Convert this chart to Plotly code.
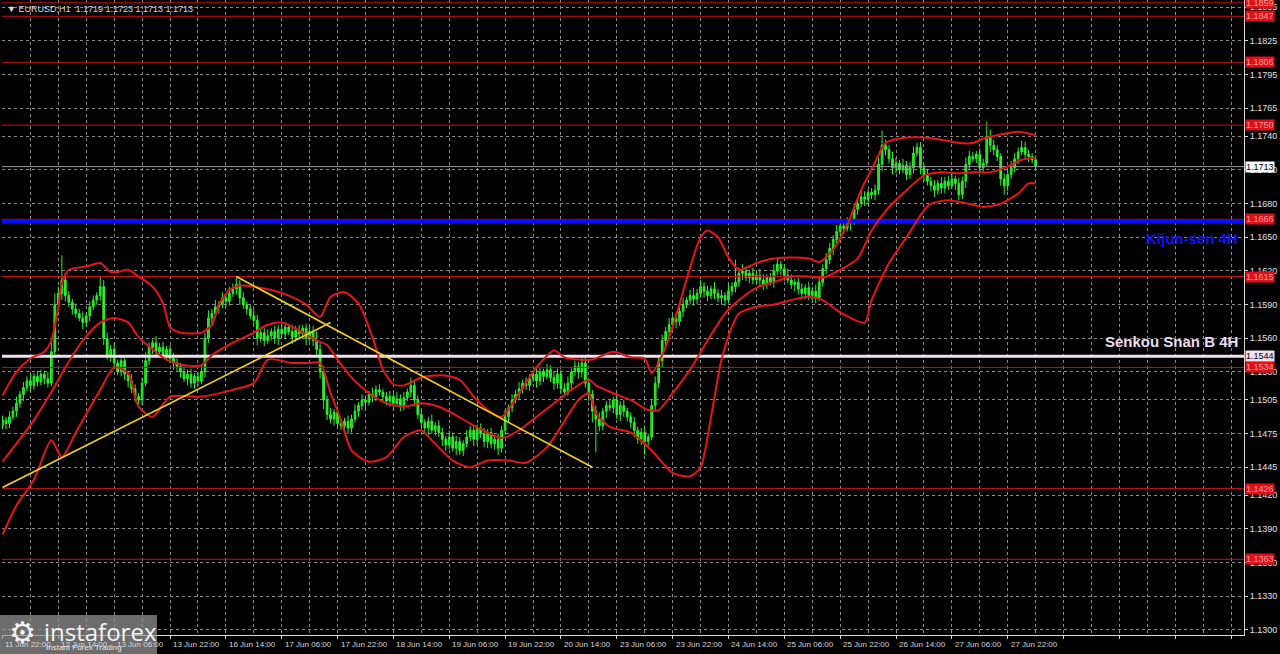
import plotly.graph_objects as go

# ---------------- data ----------------
closes = [
    1.1487, 1.1484, 1.1490, 1.1495, 1.1502, 1.1510, 1.1516, 1.1522, 1.1518, 1.1526,
    1.1521, 1.1528, 1.1524, 1.1520, 1.1548, 1.1590, 1.1600, 1.1612, 1.1598, 1.1592,
    1.1586, 1.1582, 1.1578, 1.1574, 1.1580, 1.1588, 1.1594, 1.1598, 1.1606, 1.1560,
    1.1545, 1.1550, 1.1538, 1.1530, 1.1540, 1.1528, 1.1522, 1.1515, 1.1508, 1.1505,
    1.1520, 1.1540, 1.1552, 1.1556, 1.1548, 1.1552, 1.1545, 1.1550, 1.1542, 1.1538,
    1.1535, 1.1530, 1.1524, 1.1528, 1.1520, 1.1526, 1.1522, 1.1530, 1.1560, 1.1578,
    1.1582, 1.1588, 1.1590, 1.1596, 1.1593, 1.1600, 1.1604, 1.1608, 1.1596, 1.1590,
    1.1586, 1.1580, 1.1576, 1.1560, 1.1565, 1.1558, 1.1562, 1.1566, 1.1560, 1.1568,
    1.1564, 1.1570, 1.1566, 1.1561, 1.1567, 1.1564, 1.1569, 1.1560, 1.1566, 1.1558,
    1.1550, 1.1530, 1.1505, 1.1492, 1.1488, 1.1494, 1.1484, 1.1482, 1.1486, 1.1480,
    1.1488, 1.1495, 1.1500, 1.1505, 1.1503, 1.1510, 1.1508, 1.1514, 1.1512, 1.1508,
    1.1504, 1.1508, 1.1502, 1.1506, 1.1500, 1.1507, 1.1512, 1.1518, 1.1505, 1.1492,
    1.1485, 1.1480, 1.1486, 1.1478, 1.1482, 1.1476, 1.1470, 1.1465, 1.1472, 1.1462,
    1.1468, 1.1460, 1.1466, 1.1472, 1.1478, 1.1470, 1.1480, 1.1475, 1.1468, 1.1476,
    1.1466, 1.1470, 1.1462, 1.1478, 1.1490, 1.1498, 1.1505, 1.1510, 1.1515, 1.1520,
    1.1518, 1.1524, 1.1528, 1.1522, 1.1530, 1.1526, 1.1532, 1.1525, 1.1520, 1.1528,
    1.1515, 1.1512, 1.1520, 1.1530, 1.1535, 1.1530, 1.1538, 1.1520, 1.1510, 1.1495,
    1.1488, 1.1482, 1.1495, 1.1500, 1.1498, 1.1505, 1.1492, 1.1500, 1.1495, 1.1490,
    1.1485, 1.1478, 1.1470, 1.1476, 1.1468, 1.1472, 1.1500, 1.1520, 1.1540, 1.1558,
    1.1566, 1.1572, 1.1578, 1.1575, 1.1584, 1.1590, 1.1594, 1.1598, 1.1595, 1.1600,
    1.1606, 1.1602, 1.1598, 1.1604, 1.1600, 1.1596, 1.1598, 1.1594, 1.1602, 1.1606,
    1.1610, 1.1618, 1.1620, 1.1614, 1.1618, 1.1612, 1.1616, 1.1612, 1.1608, 1.1614,
    1.1610, 1.1620, 1.1626, 1.1622, 1.1616, 1.1612, 1.1608, 1.1610, 1.1604, 1.1600,
    1.1605, 1.1598, 1.1602, 1.1596, 1.1610, 1.1622, 1.1630, 1.1640, 1.1648, 1.1655,
    1.1660, 1.1658, 1.1662, 1.1665, 1.1675, 1.1680, 1.1686, 1.1684, 1.1690, 1.1688,
    1.1692, 1.1715, 1.1732, 1.1728, 1.1720, 1.1712, 1.1716, 1.1710, 1.1714, 1.1706,
    1.1712, 1.1725, 1.1730, 1.1712, 1.1705, 1.1700, 1.1696, 1.1692, 1.1698, 1.1694,
    1.1700, 1.1696, 1.1702, 1.1698, 1.1688, 1.1700, 1.1715, 1.1722, 1.1720, 1.1724,
    1.1712, 1.1716, 1.1740, 1.1732, 1.1728, 1.1722, 1.1702, 1.1696, 1.1706, 1.1712,
    1.1720, 1.1726, 1.1730, 1.1724, 1.1722, 1.1719, 1.1713,
]
first_open = 1.1482
# wick lengths in pips
upper_wick = [
    4, 3, 5, 4, 6, 3, 5, 4, 6, 3,  5, 4, 3, 6, 8, 10, 6, 22, 5, 4,
    3, 5, 4, 6, 3, 5, 4, 3, 9, 6,  5, 4, 6, 3, 5, 4, 3, 6, 4, 3,
    5, 7, 4, 3, 6, 4, 5, 3, 4, 5,  4, 3, 6, 4, 5, 3, 4, 6, 5, 7,
    4, 6, 3, 5, 4, 6, 5, 7, 4, 5,  3, 4, 6, 5, 3, 4, 6, 3, 5, 4,
    5, 4, 3, 6, 4, 5, 3, 4, 6, 5,  8, 6, 5, 4, 6, 3, 5, 4, 3, 5,
    4, 6, 3, 5, 4, 3, 6, 4, 5, 3,  4, 5, 3, 6, 4, 5, 3, 7, 5, 4,
    5, 3, 4, 6, 3, 5, 4, 3, 6, 4,  5, 4, 3, 6, 4, 5, 3, 4, 5, 3,
    4, 3, 5, 4, 6, 3, 5, 4, 6, 3,  5, 4, 3, 6, 4, 3, 5, 4, 6, 5,
    4, 5, 6, 3, 5, 4, 6, 5, 3, 4,  5, 6, 3, 4, 5, 3, 6, 4, 5, 3,
    4, 5, 3, 4, 6, 3, 5, 6, 4, 5,  4, 6, 3, 5, 4, 6, 3, 5, 7, 4,
    6, 4, 5, 3, 6, 4, 5, 3, 6, 4,  20, 5, 6, 4, 3, 5, 4, 6, 5, 3,
    4, 6, 5, 3, 4, 6, 5, 3, 4, 5,  3, 5, 4, 6, 5, 4, 6, 5, 4, 6,
    5, 4, 6, 3, 5, 4, 6, 5, 3, 4,  5, 6, 13, 5, 4, 6, 5, 3, 6, 4,
    5, 6, 4, 5, 3, 6, 4, 5, 3, 6,  4, 5, 6, 3, 5, 4, 6, 5, 4, 3,
    5, 4, 13, 6, 5, 4, 3, 5, 4, 6,  5, 4, 6, 5, 4, 3, 4,
]
lower_wick = [
    3, 5, 4, 3, 5, 4, 6, 3, 5, 4,  4, 3, 5, 4, 3, 5, 4, 6, 5, 4,
    5, 4, 3, 6, 4, 5, 3, 4, 5, 6,  4, 6, 5, 3, 4, 5, 6, 4, 5, 6,
    5, 3, 4, 6, 5, 4, 3, 5, 4, 6,  4, 5, 3, 6, 4, 5, 4, 3, 5, 4,
    5, 4, 6, 3, 5, 4, 3, 5, 6, 4,  5, 3, 4, 6, 4, 5, 3, 4, 5, 6,
    4, 5, 3, 6, 4, 5, 4, 6, 3, 5,  5, 6, 8, 5, 4, 6, 5, 4, 6, 5,
    4, 3, 5, 4, 6, 3, 5, 4, 3, 5,  4, 5, 6, 3, 5, 4, 3, 5, 6, 4,
    5, 4, 6, 3, 5, 4, 6, 5, 4, 3,  6, 4, 5, 3, 4, 6, 5, 4, 5, 6,
    4, 5, 6, 4, 3, 5, 4, 3, 5, 4,  4, 5, 3, 6, 4, 5, 3, 4, 6, 5,
    5, 4, 3, 5, 4, 6, 5, 4, 6, 10,  30, 5, 4, 6, 3, 5, 4, 6, 5, 4,
    5, 6, 4, 5, 12, 4, 3, 5, 4, 6,  4, 5, 3, 6, 4, 5, 3, 4, 6, 5,
    4, 6, 5, 3, 5, 4, 6, 5, 3, 4,  5, 4, 6, 3, 5, 4, 3, 6, 5, 4,
    3, 5, 4, 6, 5, 3, 4, 6, 5, 4,  5, 4, 6, 5, 3, 4, 5, 4, 6, 5,
    4, 5, 3, 6, 4, 5, 3, 6, 5, 4,  5, 4, 6, 5, 4, 6, 5, 4, 3, 5,
    4, 5, 3, 6, 5, 4, 5, 6, 4, 5,  5, 4, 3, 6, 5, 4, 6, 5, 3, 4,
    5, 4, 3, 6, 5, 4, 6, 8, 5, 4,  4, 5, 3, 4, 5, 3, 4,
]

# Bollinger band curves (bar index, price)
bb_upper_i = [0, 4, 8, 12, 14, 16, 17, 19, 24, 28, 31, 33, 36, 39, 43, 46, 48, 51, 57, 60,
              62, 65, 68, 72, 77, 82, 87, 91, 94, 98, 102, 106, 109, 112, 115, 120, 126, 131, 135, 139,
              143, 148, 153, 158, 161, 165, 169, 175, 180, 184, 186, 189, 192, 197, 200, 202, 205, 208, 211, 216,
              221, 226, 231, 234, 238, 242, 246, 250, 253, 257, 264, 269, 274, 278, 281, 285, 291, 296]
bb_upper_p = [1.1509, 1.1530, 1.1542, 1.1548, 1.1558, 1.1588, 1.1609, 1.1621, 1.1624, 1.1627,
              1.1619, 1.1619, 1.1621, 1.1615, 1.1606, 1.1591, 1.1570, 1.1565, 1.1565, 1.1572,
              1.1590, 1.1603, 1.1607, 1.1606, 1.1603, 1.1598, 1.1590, 1.1579, 1.1597, 1.1601,
              1.1591, 1.1561, 1.1532, 1.1519, 1.1518, 1.1525, 1.1527, 1.1523, 1.1508, 1.1496,
              1.1490, 1.1511, 1.1534, 1.1549, 1.1543, 1.1541, 1.1541, 1.1548, 1.1543, 1.1542,
              1.1529, 1.1545, 1.1570, 1.1623, 1.1650, 1.1656, 1.1650, 1.1632, 1.1621, 1.1627,
              1.1631, 1.1632, 1.1631, 1.1628, 1.1639, 1.1661, 1.1692, 1.1717, 1.1734, 1.1738,
              1.1739, 1.1737, 1.1734, 1.1734, 1.1738, 1.1741, 1.1744, 1.1741]
bb_mid_i = [0, 9, 14, 18, 23, 28, 32, 36, 39, 43, 47, 52, 57, 60, 66, 72, 76, 80, 85, 90,
            93, 96, 100, 105, 110, 115, 120, 125, 129, 134, 139, 143, 148, 153, 158, 163, 168, 170, 175, 180,
            185, 188, 192, 197, 202, 207, 211, 216, 221, 226, 231, 235, 240, 245, 249, 254, 259, 264, 269, 274,
            278, 283, 288, 292, 296]
bb_mid_p = [1.1450, 1.1487, 1.1512, 1.1534, 1.1558, 1.1574, 1.1578, 1.1574, 1.1561, 1.1550,
            1.1541, 1.1536, 1.1536, 1.1545, 1.1556, 1.1565, 1.1572, 1.1574, 1.1567, 1.1558,
            1.1554, 1.1541, 1.1525, 1.1511, 1.1502, 1.1499, 1.1502, 1.1499, 1.1493, 1.1484,
            1.1476, 1.1471, 1.1478, 1.1490, 1.1502, 1.1514, 1.1523, 1.1518, 1.1511, 1.1505,
            1.1496, 1.1496, 1.1511, 1.1532, 1.1558, 1.1582, 1.1594, 1.1605, 1.1610, 1.1615,
            1.1615, 1.1614, 1.1621, 1.1631, 1.1656, 1.1677, 1.1692, 1.1705, 1.1708, 1.1707,
            1.1708, 1.1708, 1.1713, 1.1719, 1.1721]
bb_lower_i = [0, 4, 9, 14, 17, 21, 28, 32, 36, 39, 43, 48, 57, 66, 72, 76, 83, 88, 91, 94,
              97, 100, 105, 110, 115, 120, 123, 129, 134, 139, 145, 150, 156, 160, 165, 168, 170, 174, 180, 186,
              192, 197, 200, 203, 206, 209, 211, 216, 221, 226, 231, 235, 240, 247, 249, 254, 259, 264, 266, 271,
              278, 281, 286, 291, 294, 296]
bb_lower_p = [1.1385, 1.1411, 1.1434, 1.1469, 1.1454, 1.1476, 1.1514, 1.1534, 1.1529, 1.1499,
              1.1490, 1.1508, 1.1508, 1.1514, 1.1520, 1.1541, 1.1538, 1.1538, 1.1538, 1.1511,
              1.1487, 1.1460, 1.1450, 1.1454, 1.1472, 1.1478, 1.1469, 1.1451, 1.1445, 1.1451,
              1.1451, 1.1449, 1.1463, 1.1481, 1.1505, 1.1511, 1.1493, 1.1481, 1.1476, 1.1460,
              1.1440, 1.1437, 1.1445, 1.1490, 1.1541, 1.1570, 1.1582, 1.1588, 1.1590, 1.1594,
              1.1597, 1.1594, 1.1583, 1.1574, 1.1594, 1.1627, 1.1650, 1.1674, 1.1680, 1.1683,
              1.1679, 1.1677, 1.1680, 1.1689, 1.1698, 1.1698]

# yellow trend lines
trend_up_i = [0, 94]
trend_up_p = [1.1427, 1.1574]
trend_down_i = [67, 169]
trend_down_p = [1.1615, 1.1445]

# horizontal levels
red_levels = [1.1859, 1.1847, 1.1806, 1.1750, 1.1666, 1.1615, 1.1534, 1.1426, 1.1363]
kijun_level = 1.1664
senkou_level = 1.1544
last_price = 1.1713

# axes
price_ticks = [1.1300, 1.1330, 1.1360, 1.1390, 1.1420, 1.1445, 1.1475, 1.1505, 1.1530,
               1.1560, 1.1590, 1.1620, 1.1650, 1.1680, 1.1710, 1.1740, 1.1765, 1.1795,
               1.1825, 1.1855]
time_tick_i = [0, 16, 32, 48, 64, 80, 96, 112, 128, 144, 160, 176, 192, 208, 224, 240, 256, 272, 288]
time_tick_text = ["11 Jun 22:00", "12 Jun 14:00", "13 Jun 06:00", "13 Jun 22:00", "16 Jun 14:00",
                  "17 Jun 06:00", "17 Jun 22:00", "18 Jun 14:00", "19 Jun 06:00", "19 Jun 22:00",
                  "20 Jun 14:00", "23 Jun 06:00", "23 Jun 22:00", "24 Jun 14:00", "25 Jun 06:00",
                  "25 Jun 22:00", "26 Jun 14:00", "27 Jun 06:00", "27 Jun 22:00"]
title_text = "▼ EURUSD,H1  1.1719 1.1723 1.1713 1.1713"

# ---------------- build ----------------
n = len(closes)
idx = list(range(n))
opens = [first_open] + closes[:-1]
highs = [max(o, c) + u / 10000 for o, c, u in zip(opens, closes, upper_wick)]
lows = [min(o, c) - w / 10000 for o, c, w in zip(opens, closes, lower_wick)]

X0, X1 = -0.14, 355.7
Y0, Y1 = 1.12955, 1.18615
PW, PL, PB, PH = 1242, 2, 635, 635  # plot width, left margin, plot bottom (px), plot height


def px_x(px):
    return (px - PL) / PW


def px_y(py):
    return (PB - py) / PH


fig = go.Figure()

for lv in red_levels:
    fig.add_trace(go.Scatter(x=[X0, X1], y=[lv, lv], mode="lines",
                             line=dict(color="#c8101a", width=1), hoverinfo="skip"))
fig.add_trace(go.Scatter(x=[X0, X1], y=[last_price, last_price], mode="lines",
                         line=dict(color="#9a9a9a", width=1), hoverinfo="skip"))
fig.add_trace(go.Scatter(x=[X0, X1], y=[kijun_level, kijun_level], mode="lines",
                         line=dict(color="#0a0aff", width=4), hoverinfo="skip"))
fig.add_trace(go.Scatter(x=[X0, X1], y=[senkou_level, senkou_level], mode="lines",
                         line=dict(color="#f2dff0", width=3), hoverinfo="skip"))

fig.add_trace(go.Candlestick(
    x=idx, open=opens, high=highs, low=lows, close=closes,
    increasing=dict(line=dict(color="#2cf02c", width=1), fillcolor="#1fd61f"),
    decreasing=dict(line=dict(color="#2cf02c", width=1), fillcolor="#2cf02c"),
    whiskerwidth=0, hoverinfo="skip"))

for bi, bp in ((bb_upper_i, bb_upper_p), (bb_mid_i, bb_mid_p), (bb_lower_i, bb_lower_p)):
    fig.add_trace(go.Scatter(x=bi, y=bp, mode="lines",
                             line=dict(color="#e8141c", width=2, shape="spline", smoothing=0.7),
                             hoverinfo="skip"))

for ti, tp in ((trend_up_i, trend_up_p), (trend_down_i, trend_down_p)):
    fig.add_trace(go.Scatter(x=ti, y=tp, mode="lines",
                             line=dict(color="#f5d21a", width=1.6), hoverinfo="skip"))

annotations = []
for lv in red_levels:
    annotations.append(dict(x=1, xref="paper", y=lv, yref="y", xanchor="left", yanchor="middle",
                            xshift=1, text=f"{lv:.4f}", showarrow=False, bgcolor="#e0101a",
                            borderpad=0, font=dict(family="Liberation Sans", size=9, color="#ff9a9a")))
annotations.append(dict(x=1, xref="paper", y=last_price, yref="y", xanchor="left", yanchor="middle",
                        xshift=1, text=f"{last_price:.4f}", showarrow=False, bgcolor="#ffffff",
                        borderpad=0, font=dict(family="Liberation Sans", size=9, color="#000000")))
annotations.append(dict(x=1, xref="paper", y=senkou_level, yref="y", xanchor="left", yanchor="middle",
                        xshift=1, text=f"{senkou_level:.4f}", showarrow=False, bgcolor="#f2dff0",
                        borderpad=0, font=dict(family="Liberation Sans", size=9, color="#000000")))
annotations.append(dict(x=1, xref="paper", y=kijun_level, yref="y", xanchor="right", yanchor="top",
                        xshift=-4, yshift=-6, text="<b>Kijun-sen 4H</b>", showarrow=False,
                        font=dict(family="Liberation Sans Narrow, Liberation Sans", size=15, color="#1010ff")))
annotations.append(dict(x=1, xref="paper", y=senkou_level, yref="y", xanchor="right", yanchor="bottom",
                        xshift=-4, yshift=4, text="<b>Senkou Snan B 4H</b>", showarrow=False,
                        font=dict(family="Liberation Sans Narrow, Liberation Sans", size=15, color="#eedcf0")))
for ti, tt in zip(time_tick_i, time_tick_text):
    annotations.append(dict(x=ti, xref="x", y=0, yref="paper", xanchor="left", yanchor="top",
                            xshift=1, yshift=-3, text=tt, showarrow=False,
                            font=dict(family="Liberation Sans", size=8, color="#d8d8d8")))
annotations.append(dict(x=0, xref="paper", y=1, yref="paper", xanchor="left", yanchor="top",
                        xshift=3, yshift=-2, text=title_text, showarrow=False,
                        font=dict(family="Liberation Sans", size=9, color="#dcdcdc")))
annotations.append(dict(x=px_x(42), xref="paper", y=px_y(631), yref="paper",
                        xanchor="left", yanchor="middle", text="instaforex", showarrow=False,
                        font=dict(family="Open Sans, Liberation Sans", size=24, color="#f4f4f4")))
annotations.append(dict(x=px_x(44), xref="paper", y=px_y(647), yref="paper",
                        xanchor="left", yanchor="middle", text="Instant Forex Trading", showarrow=False,
                        font=dict(family="Liberation Sans", size=8, color="#e8e8e8")))
annotations.append(dict(x=px_x(22), xref="paper", y=px_y(632), yref="paper",
                        xanchor="center", yanchor="middle", text="⚙", showarrow=False,
                        font=dict(family="DejaVu Sans", size=30, color="#f4f4f4")))

shapes = [dict(type="rect", xref="paper", yref="paper",
               x0=px_x(0), x1=px_x(157), y0=px_y(656), y1=px_y(615),
               fillcolor="rgba(150,150,150,0.72)", line=dict(width=0), layer="above")]

fig.update_layout(
    width=1280, height=654,
    margin=dict(l=2, r=36, t=0, b=19),
    paper_bgcolor="#000000", plot_bgcolor="#000000",
    showlegend=False,
    annotations=annotations, shapes=shapes,
    xaxis=dict(range=[X0, X1], rangeslider=dict(visible=False),
               tickmode="linear", tick0=0, dtick=16, showticklabels=False,
               ticks="outside", ticklen=3, tickcolor="#d8d8d8",
               showgrid=True, gridcolor="#8a8a8a", gridwidth=1, griddash="3px,3px",
               minor=dict(tickmode="linear", tick0=0, dtick=8, showgrid=True,
                          gridcolor="#8a8a8a", griddash="3px,3px", ticks=""),
               showline=True, linecolor="#d8d8d8", linewidth=1,
               zeroline=False, fixedrange=True),
    yaxis=dict(range=[Y0, Y1], side="right", tickmode="array", tickvals=price_ticks,
               ticktext=[f"{v:.4f}" for v in price_ticks],
               tickfont=dict(family="Liberation Sans", size=9, color="#e0e0e0"),
               ticks="outside", ticklen=3, tickcolor="#d8d8d8",
               showgrid=True, gridcolor="#8a8a8a", gridwidth=1, griddash="3px,3px",
               showline=True, linecolor="#d8d8d8", linewidth=1,
               zeroline=False, fixedrange=True, automargin=False),
)

fig.write_html("out.html", config={"displayModeBar": False},
               post_script="document.body.style.margin='0px';document.body.style.overflow='hidden';")
